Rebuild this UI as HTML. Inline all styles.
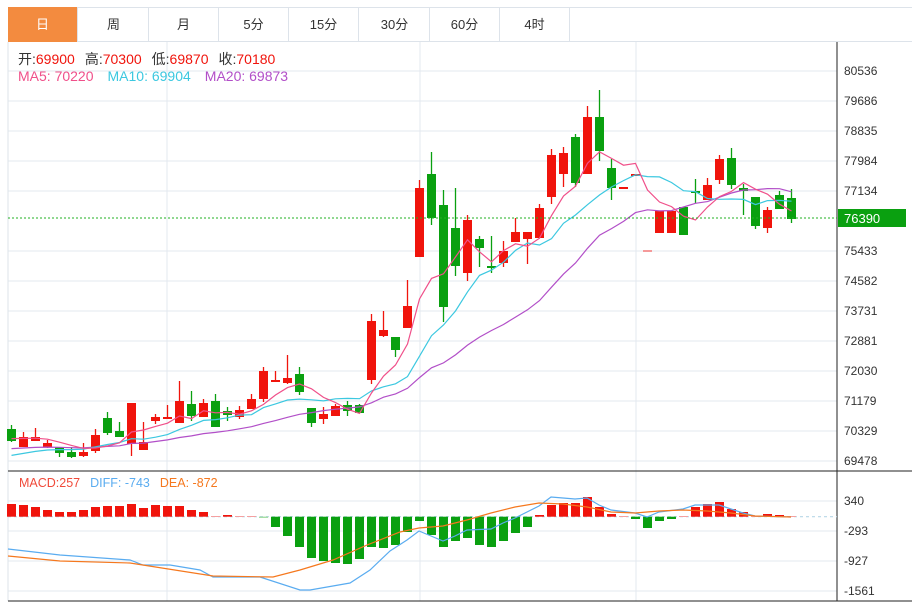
<!DOCTYPE html>
<html><head><meta charset="utf-8"><style>
body{margin:0;background:#fff;font-family:"Liberation Sans","Noto Sans CJK SC",sans-serif;}
#w{position:relative;width:912px;height:604px;overflow:hidden;}
.tab{position:absolute;top:7px;height:35px;width:70px;line-height:35px;text-align:center;font-size:13px;color:#333;border-right:1px solid #dde3ea;box-sizing:border-box;}
</style></head><body><div id="w">
<div style="position:absolute;left:8px;top:7px;width:904px;height:35px;border-top:1px solid #dde3ea;border-bottom:1px solid #dde3ea;box-sizing:border-box"></div>
<div class="tab" style="left:8px;background:#f38b3f;color:#fff;">日</div>
<div class="tab" style="left:79px">周</div>
<div class="tab" style="left:149px">月</div>
<div class="tab" style="left:219px">5分</div>
<div class="tab" style="left:289px">15分</div>
<div class="tab" style="left:360px">30分</div>
<div class="tab" style="left:430px">60分</div>
<div class="tab" style="left:500px">4时</div>
<svg id="s" width="912" height="604" style="position:absolute;left:0;top:0" font-family="Liberation Sans, Noto Sans CJK SC, sans-serif"></svg>
</div>
<script>
var s=document.getElementById('s'),h='';
function L(x1,y1,x2,y2,c,w,d){h+='<line x1="'+x1+'" y1="'+y1+'" x2="'+x2+'" y2="'+y2+'" stroke="'+c+'" stroke-width="'+(w||1)+'"'+(d?' stroke-dasharray="'+d+'"':'')+'/>';}
function T(x,y,t,c,sz,a){h+='<text x="'+x+'" y="'+y+'" fill="'+c+'" font-size="'+(sz||12)+'"'+(a?' text-anchor="'+a+'"':'')+'>'+t+'</text>';}
var lab=['80536','79686','78835','77984','77134','','75433','74582','73731','72881','72030','71179','70329','69478'];
for(var i=0;i<14;i++){var y=71+i*30;if(i==5)continue;L(8,y,837,y,'#e3e9ef');T(844,y+4,lab[i],'#333',12);}
[501,531,561,591].forEach(function(y,k){L(8,y,837,y,'#e3e9ef');T(844,y+4,['340','-293','-927','-1561'][k],'#333',12);});
[167,420,636].forEach(function(x){L(x,42,x,601,'#e3e9ef');});
L(8,42,8,601,'#dde3ea');
L(837,42,837,601,'#222');L(8,471,912,471,'#222');L(8,601,912,601,'#222');
var C=[[429,441,425,442,0],[437,447,432,447,1],[437,441,428,441,1],[443,447,440,448,1],[447,453,447,457,0],[452,457,447,458,0],[452,456,443,457,1],[435,451,429,453,1],[418,433,412,435,0],[431,437,422,437,0],[403,444,403,456,1],[442,450,422,450,1],[417,421,414,424,1],[417,419,405,419,1],[401,423,381,423,1],[404,416,391,421,0],[403,417,399,417,1],[401,427,394,427,0],[411,415,407,421,0],[410,417,406,419,1],[399,409,394,409,1],[371,399,367,402,1],[380,382,371,382,1],[378,383,355,384,1],[374,392,367,395,0],[408,423,408,427,0],[414,419,407,424,1],[406,416,404,416,1],[405,411,401,416,0],[405,413,404,413,0],
[321,380,314,384,1],[330,336,311,337,1],[337,350,337,357,0],[306,328,280,328,1],[188,257,180,257,1],[174,218,152,225,0],[205,307,190,322,0],[228,266,188,276,0],[220,273,215,281,1],[239,248,236,267,0],[266,268,236,273,0],[251,263,241,267,1],[232,242,218,242,1],[232,239,232,264,1],[208,238,204,238,1],[155,197,149,204,1],[153,174,147,187,1],[137,183,134,187,0],[117,174,106,174,1],[117,151,90,161,0],[168,188,159,200,0],[187,189,187,189,1],[174,176,174,176,1],[250,252,250,252,2],[211,233,211,233,1],[211,233,211,233,1],[207,235,207,235,0],[191,193,179,203,0],[185,200,178,200,1],[159,180,155,184,1],[158,185,148,189,0],[188,191,184,215,0],[197,226,197,229,0],[210,228,207,233,1],[195,209,191,209,0],[198,219,189,223,0]];
var cl=[];
C.forEach(function(c,i){var x=11.5+12*i,col=c[4]==1?'#f0140c':(c[4]==2?'#f59a9a':'#0aa010');
L(x,c[2],x,c[3],col,1.3);h+='<rect x="'+(x-4.5)+'" y="'+c[0]+'" width="9" height="'+Math.max(1.5,c[1]-c[0])+'" fill="'+col+'"/>';
cl.push(c[4]?c[0]:c[1]);});
function ma(n,pad){var p='';for(var i=0;i<cl.length;i++){var sm=0;for(var k=i-n+1;k<=i;k++)sm+=(k<0?pad:cl[k]);p+=(i?'L':'M')+(11.5+12*i)+' '+(sm/n).toFixed(1);}return p;}
h+='<path d="'+ma(20,449)+'" fill="none" stroke="#b24fc8" stroke-width="1.2"/>';
h+='<path d="'+ma(10,457)+'" fill="none" stroke="#3cc8e0" stroke-width="1.2"/>';
h+='<path d="'+ma(5,438)+'" fill="none" stroke="#f0508a" stroke-width="1.2"/>';
L(8,218,837,218,'#22b022',1,'2,2');
h+='<rect x="838" y="209" width="68" height="18" fill="#0aa010"/>';T(844,223,'76390','#fff',13);
var M=[504,505,507,510,512,512,510,507,506,506,504,508,505,506,506,510,512,516,515,516,516,517.5,527,536,547,558,561,563,564,559,547,548,545,532,521,535,547,541,538,545,547,541,533,527,515,505,503,503,497,507,514,516,519,528,521,519,516,507,504,502,509,512,516,514,515,516];
var z=516.7;L(8,z,837,z,'#b8d8e8',1.2,'3,3');
M.forEach(function(v,i){var x=11.5+12*i,up=v<z,col=up?'#f0140c':'#0aa010';if(Math.abs(v-z)<1.2)col=up?'#f5a0a0':'#80d080';var t=Math.min(v,z),hh=Math.max(1,Math.abs(v-z));h+='<rect x="'+(x-4.5)+'" y="'+t+'" width="9" height="'+hh+'" fill="'+col+'"/>';});
function P(a,c){var p='';a.forEach(function(q,i){p+=(i?'L':'M')+q[0]+' '+q[1];});h+='<path d="'+p+'" fill="none" stroke="'+c+'" stroke-width="1.2"/>';}
P([[8,549],[60,555],[130,560],[143,565],[170,565],[200,570],[213,577],[260,577],[300,590],[310,590],[350,583],[370,570],[390,551],[407,540],[419,531],[443,541],[455,536],[467,530],[491,529],[503,523],[515,518],[527,512],[539,506],[551,497],[563,498],[575,499],[587,498],[599,505],[611,510],[635,513],[647,517],[659,512],[683,509],[695,505],[719,505],[731,509],[743,513],[755,516],[791,517]],'#5aacf0');
P([[8,556],[60,561],[130,563],[213,576],[273,577],[300,570],[333,560],[367,545],[400,532],[419,528],[443,526],[467,520],[491,513],[515,507],[539,503],[563,504],[587,507],[611,512],[635,513],[659,511],[683,510],[707,511],[731,513],[755,516],[791,517]],'#f5781e');
h+='<text x="18" y="64" font-size="14"><tspan fill="#333">开:</tspan><tspan fill="#f0140c">69900</tspan><tspan fill="#333" dx="10">高:</tspan><tspan fill="#f0140c">70300</tspan><tspan fill="#333" dx="10">低:</tspan><tspan fill="#f0140c">69870</tspan><tspan fill="#333" dx="10">收:</tspan><tspan fill="#f0140c">70180</tspan></text>';
h+='<text x="18" y="81" font-size="14"><tspan fill="#f0508a">MA5: 70220</tspan><tspan fill="#3cc8e0" dx="14">MA10: 69904</tspan><tspan fill="#b24fc8" dx="14">MA20: 69873</tspan></text>';
h+='<text x="19" y="487" font-size="12.5"><tspan fill="#f04a3a">MACD:257</tspan><tspan fill="#5aacf0" dx="10">DIFF: -743</tspan><tspan fill="#f5781e" dx="10">DEA: -872</tspan></text>';
s.innerHTML=h;
</script></body></html>
